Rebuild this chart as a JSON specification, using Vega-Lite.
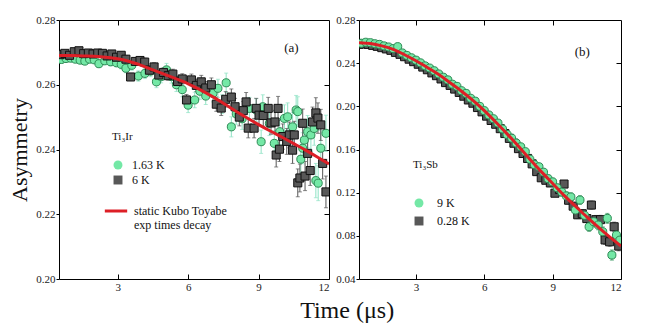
{
"$schema":"https://vega.github.io/schema/vega-lite/v6.json",
"padding":{"left":8,"top":14,"right":5,"bottom":0},
"title":{"text":"Time (μs)","orient":"bottom","anchor":"middle","fontSize":24,"font":"Liberation Serif","fontWeight":"normal","color":"#111","dx":32,"offset":7},
"datasets":{
"a1":[
{"s":"1.63 K","t":0.6,"v":0.2678,"e":0.001},{"s":"1.63 K","t":0.8,"v":0.2681,"e":0.001},{"s":"1.63 K","t":1.0,"v":0.2682,"e":0.001},{"s":"1.63 K","t":1.2,"v":0.2679,"e":0.001},{"s":"1.63 K","t":1.4,"v":0.2676,"e":0.001},{"s":"1.63 K","t":1.6,"v":0.2673,"e":0.0011},{"s":"1.63 K","t":1.8,"v":0.2679,"e":0.0011},{"s":"1.63 K","t":2.0,"v":0.2677,"e":0.0011},{"s":"1.63 K","t":2.2,"v":0.2665,"e":0.0012},{"s":"1.63 K","t":2.45,"v":0.2674,"e":0.0012},{"s":"1.63 K","t":2.7,"v":0.2671,"e":0.0013},{"s":"1.63 K","t":2.95,"v":0.2668,"e":0.0013},{"s":"1.63 K","t":3.15,"v":0.2663,"e":0.0014},{"s":"1.63 K","t":3.35,"v":0.2651,"e":0.0014},{"s":"1.63 K","t":3.6,"v":0.266,"e":0.0015},{"s":"1.63 K","t":3.88,"v":0.2627,"e":0.0016},{"s":"1.63 K","t":4.16,"v":0.2635,"e":0.0016},{"s":"1.63 K","t":4.4,"v":0.2642,"e":0.0017},{"s":"1.63 K","t":4.65,"v":0.2609,"e":0.0018},{"s":"1.63 K","t":4.85,"v":0.2625,"e":0.0019},{"s":"1.63 K","t":5.08,"v":0.2646,"e":0.002},{"s":"1.63 K","t":5.29,"v":0.2625,"e":0.002},{"s":"1.63 K","t":5.5,"v":0.26,"e":0.0021},{"s":"1.63 K","t":5.75,"v":0.2585,"e":0.0022},{"s":"1.63 K","t":6.0,"v":0.2537,"e":0.0023},{"s":"1.63 K","t":6.28,"v":0.2553,"e":0.0024},{"s":"1.63 K","t":6.5,"v":0.258,"e":0.0025},{"s":"1.63 K","t":6.75,"v":0.2565,"e":0.0026},{"s":"1.63 K","t":7.06,"v":0.2574,"e":0.0027},{"s":"1.63 K","t":7.27,"v":0.2589,"e":0.0028},{"s":"1.63 K","t":7.45,"v":0.254,"e":0.0029},{"s":"1.63 K","t":7.62,"v":0.2606,"e":0.003},{"s":"1.63 K","t":7.84,"v":0.247,"e":0.0031},{"s":"1.63 K","t":8.05,"v":0.251,"e":0.0032},{"s":"1.63 K","t":8.3,"v":0.2495,"e":0.0033},{"s":"1.63 K","t":8.61,"v":0.2527,"e":0.0034},{"s":"1.63 K","t":8.9,"v":0.2522,"e":0.0035},{"s":"1.63 K","t":9.11,"v":0.2424,"e":0.0036},{"s":"1.63 K","t":9.18,"v":0.2532,"e":0.0037},{"s":"1.63 K","t":9.46,"v":0.2481,"e":0.0038},{"s":"1.63 K","t":9.67,"v":0.2419,"e":0.0039},{"s":"1.63 K","t":9.9,"v":0.2455,"e":0.004},{"s":"1.63 K","t":10.1,"v":0.2496,"e":0.0042},{"s":"1.63 K","t":10.24,"v":0.2501,"e":0.0043},{"s":"1.63 K","t":10.45,"v":0.247,"e":0.0044},{"s":"1.63 K","t":10.6,"v":0.2522,"e":0.0045},{"s":"1.63 K","t":10.67,"v":0.2517,"e":0.0046},{"s":"1.63 K","t":10.8,"v":0.237,"e":0.0047},{"s":"1.63 K","t":10.88,"v":0.2404,"e":0.0048},{"s":"1.63 K","t":10.95,"v":0.2429,"e":0.0049},{"s":"1.63 K","t":11.09,"v":0.2455,"e":0.005},{"s":"1.63 K","t":11.23,"v":0.2445,"e":0.0051},{"s":"1.63 K","t":11.37,"v":0.2465,"e":0.0052},{"s":"1.63 K","t":11.44,"v":0.2304,"e":0.0053},{"s":"1.63 K","t":11.54,"v":0.2296,"e":0.0054},{"s":"1.63 K","t":11.65,"v":0.2404,"e":0.0055},{"s":"1.63 K","t":11.87,"v":0.245,"e":0.0056}
],
"a6":[
{"s":"6 K","t":0.55,"v":0.2693,"e":0.0008},{"s":"6 K","t":0.75,"v":0.2697,"e":0.0008},{"s":"6 K","t":0.95,"v":0.2691,"e":0.0008},{"s":"6 K","t":1.15,"v":0.2702,"e":0.0008},{"s":"6 K","t":1.35,"v":0.2705,"e":0.0008},{"s":"6 K","t":1.55,"v":0.2696,"e":0.0009},{"s":"6 K","t":1.75,"v":0.2698,"e":0.0009},{"s":"6 K","t":1.95,"v":0.2695,"e":0.0009},{"s":"6 K","t":2.15,"v":0.2698,"e":0.0009},{"s":"6 K","t":2.35,"v":0.2697,"e":0.001},{"s":"6 K","t":2.55,"v":0.2689,"e":0.001},{"s":"6 K","t":2.75,"v":0.2695,"e":0.001},{"s":"6 K","t":2.95,"v":0.2685,"e":0.001},{"s":"6 K","t":3.15,"v":0.2691,"e":0.001},{"s":"6 K","t":3.35,"v":0.2679,"e":0.0011},{"s":"6 K","t":3.55,"v":0.2624,"e":0.0011},{"s":"6 K","t":3.75,"v":0.2672,"e":0.0011},{"s":"6 K","t":3.95,"v":0.2675,"e":0.0012},{"s":"6 K","t":4.15,"v":0.267,"e":0.0012},{"s":"6 K","t":4.35,"v":0.2645,"e":0.0012},{"s":"6 K","t":4.55,"v":0.2655,"e":0.0013},{"s":"6 K","t":4.75,"v":0.263,"e":0.0013},{"s":"6 K","t":4.95,"v":0.2638,"e":0.0014},{"s":"6 K","t":5.15,"v":0.2628,"e":0.0014},{"s":"6 K","t":5.35,"v":0.2633,"e":0.0015},{"s":"6 K","t":5.55,"v":0.261,"e":0.0016},{"s":"6 K","t":5.75,"v":0.2618,"e":0.0016},{"s":"6 K","t":5.93,"v":0.2553,"e":0.0017},{"s":"6 K","t":6.14,"v":0.2615,"e":0.0018},{"s":"6 K","t":6.35,"v":0.2598,"e":0.0019},{"s":"6 K","t":6.56,"v":0.2609,"e":0.002},{"s":"6 K","t":6.75,"v":0.259,"e":0.002},{"s":"6 K","t":6.99,"v":0.26,"e":0.0021},{"s":"6 K","t":7.2,"v":0.254,"e":0.0022},{"s":"6 K","t":7.41,"v":0.2528,"e":0.0023},{"s":"6 K","t":7.6,"v":0.2555,"e":0.0024},{"s":"6 K","t":7.84,"v":0.2562,"e":0.0025},{"s":"6 K","t":8.0,"v":0.2532,"e":0.0026},{"s":"6 K","t":8.18,"v":0.25,"e":0.0027},{"s":"6 K","t":8.35,"v":0.252,"e":0.0028},{"s":"6 K","t":8.47,"v":0.2547,"e":0.0029},{"s":"6 K","t":8.56,"v":0.2466,"e":0.003},{"s":"6 K","t":8.81,"v":0.2466,"e":0.003},{"s":"6 K","t":8.9,"v":0.2527,"e":0.0031},{"s":"6 K","t":9.02,"v":0.2506,"e":0.0032},{"s":"6 K","t":9.2,"v":0.2505,"e":0.0033},{"s":"6 K","t":9.41,"v":0.2527,"e":0.0034},{"s":"6 K","t":9.53,"v":0.2482,"e":0.0035},{"s":"6 K","t":9.7,"v":0.2485,"e":0.0036},{"s":"6 K","t":9.75,"v":0.2383,"e":0.0037},{"s":"6 K","t":9.83,"v":0.2527,"e":0.0037},{"s":"6 K","t":9.89,"v":0.2401,"e":0.0038},{"s":"6 K","t":10.03,"v":0.244,"e":0.0039},{"s":"6 K","t":10.2,"v":0.2425,"e":0.004},{"s":"6 K","t":10.31,"v":0.2445,"e":0.004},{"s":"6 K","t":10.45,"v":0.2398,"e":0.0041},{"s":"6 K","t":10.52,"v":0.2445,"e":0.0042},{"s":"6 K","t":10.67,"v":0.2297,"e":0.0043},{"s":"6 K","t":10.76,"v":0.2312,"e":0.0043},{"s":"6 K","t":10.88,"v":0.2481,"e":0.0044},{"s":"6 K","t":10.98,"v":0.2318,"e":0.0045},{"s":"6 K","t":11.09,"v":0.2388,"e":0.0045},{"s":"6 K","t":11.2,"v":0.2335,"e":0.0046},{"s":"6 K","t":11.3,"v":0.2485,"e":0.0046},{"s":"6 K","t":11.44,"v":0.2513,"e":0.0047},{"s":"6 K","t":11.53,"v":0.2497,"e":0.0047},{"s":"6 K","t":11.65,"v":0.2476,"e":0.0048},{"s":"6 K","t":11.73,"v":0.2357,"e":0.0048},{"s":"6 K","t":11.87,"v":0.2269,"e":0.0049}
],
"af":[
{"t":0.5,"v":0.269},{"t":1,"v":0.269},{"t":1.5,"v":0.2689},{"t":2,"v":0.2688},{"t":2.5,"v":0.2685},{"t":3,"v":0.268},{"t":3.5,"v":0.2672},{"t":4,"v":0.266},{"t":4.5,"v":0.2646},{"t":5,"v":0.2632},{"t":5.5,"v":0.2618},{"t":6,"v":0.2603},{"t":6.5,"v":0.2585},{"t":7,"v":0.2565},{"t":7.5,"v":0.2543},{"t":8,"v":0.252},{"t":8.5,"v":0.2498},{"t":9,"v":0.2477},{"t":9.5,"v":0.2457},{"t":10,"v":0.2438},{"t":10.5,"v":0.2418},{"t":11,"v":0.2398},{"t":11.5,"v":0.2377},{"t":12,"v":0.2355}
],
"b9":[
{"s":"9 K","t":0.6,"v":0.2585,"e":0.0012},{"s":"9 K","t":0.8,"v":0.2594,"e":0.0012},{"s":"9 K","t":1.0,"v":0.259,"e":0.0012},{"s":"9 K","t":1.2,"v":0.258,"e":0.0012},{"s":"9 K","t":1.4,"v":0.2574,"e":0.0012},{"s":"9 K","t":1.6,"v":0.256,"e":0.0012},{"s":"9 K","t":1.8,"v":0.255,"e":0.0012},{"s":"9 K","t":2.0,"v":0.2535,"e":0.0013},{"s":"9 K","t":2.2,"v":0.2553,"e":0.0013},{"s":"9 K","t":2.4,"v":0.2495,"e":0.0013},{"s":"9 K","t":2.6,"v":0.2472,"e":0.0013},{"s":"9 K","t":2.8,"v":0.245,"e":0.0014},{"s":"9 K","t":3.0,"v":0.2428,"e":0.0014},{"s":"9 K","t":3.2,"v":0.2403,"e":0.0014},{"s":"9 K","t":3.4,"v":0.2375,"e":0.0015},{"s":"9 K","t":3.6,"v":0.2355,"e":0.0015},{"s":"9 K","t":3.8,"v":0.233,"e":0.0015},{"s":"9 K","t":4.0,"v":0.23,"e":0.0016},{"s":"9 K","t":4.2,"v":0.227,"e":0.0016},{"s":"9 K","t":4.4,"v":0.2245,"e":0.0017},{"s":"9 K","t":4.6,"v":0.2205,"e":0.0017},{"s":"9 K","t":4.8,"v":0.2185,"e":0.0018},{"s":"9 K","t":5.0,"v":0.2145,"e":0.0018},{"s":"9 K","t":5.2,"v":0.212,"e":0.0019},{"s":"9 K","t":5.4,"v":0.2075,"e":0.0019},{"s":"9 K","t":5.6,"v":0.2048,"e":0.002},{"s":"9 K","t":5.8,"v":0.2,"e":0.002},{"s":"9 K","t":6.0,"v":0.196,"e":0.0021},{"s":"9 K","t":6.2,"v":0.192,"e":0.0021},{"s":"9 K","t":6.4,"v":0.1885,"e":0.0022},{"s":"9 K","t":6.6,"v":0.1845,"e":0.0022},{"s":"9 K","t":6.8,"v":0.179,"e":0.0023},{"s":"9 K","t":7.0,"v":0.174,"e":0.0024},{"s":"9 K","t":7.2,"v":0.1705,"e":0.0025},{"s":"9 K","t":7.4,"v":0.166,"e":0.0026},{"s":"9 K","t":7.6,"v":0.1625,"e":0.0027},{"s":"9 K","t":7.8,"v":0.158,"e":0.0028},{"s":"9 K","t":8.0,"v":0.151,"e":0.0029},{"s":"9 K","t":8.2,"v":0.146,"e":0.003},{"s":"9 K","t":8.4,"v":0.144,"e":0.0031},{"s":"9 K","t":8.6,"v":0.139,"e":0.0032},{"s":"9 K","t":8.8,"v":0.133,"e":0.0033},{"s":"9 K","t":9.0,"v":0.13,"e":0.0034},{"s":"9 K","t":9.2,"v":0.1245,"e":0.0035},{"s":"9 K","t":9.4,"v":0.1205,"e":0.0036},{"s":"9 K","t":9.6,"v":0.117,"e":0.0037},{"s":"9 K","t":9.8,"v":0.116,"e":0.0038},{"s":"9 K","t":10.0,"v":0.1039,"e":0.0039},{"s":"9 K","t":10.2,"v":0.1132,"e":0.004},{"s":"9 K","t":10.4,"v":0.099,"e":0.0041},{"s":"9 K","t":10.6,"v":0.0884,"e":0.0042},{"s":"9 K","t":10.8,"v":0.0931,"e":0.0043},{"s":"9 K","t":11.0,"v":0.09,"e":0.0044},{"s":"9 K","t":11.2,"v":0.0838,"e":0.0045},{"s":"9 K","t":11.4,"v":0.0962,"e":0.0046},{"s":"9 K","t":11.6,"v":0.0622,"e":0.0047},{"s":"9 K","t":11.8,"v":0.0807,"e":0.0048},{"s":"9 K","t":11.95,"v":0.076,"e":0.0049}
],
"b0":[
{"s":"0.28 K","t":0.5,"v":0.2575,"e":0.0011},{"s":"0.28 K","t":0.7,"v":0.2578,"e":0.0011},{"s":"0.28 K","t":0.9,"v":0.2574,"e":0.0011},{"s":"0.28 K","t":1.1,"v":0.2565,"e":0.0011},{"s":"0.28 K","t":1.3,"v":0.2556,"e":0.0011},{"s":"0.28 K","t":1.5,"v":0.2544,"e":0.0011},{"s":"0.28 K","t":1.7,"v":0.2532,"e":0.0011},{"s":"0.28 K","t":1.9,"v":0.2519,"e":0.0012},{"s":"0.28 K","t":2.1,"v":0.25,"e":0.0012},{"s":"0.28 K","t":2.3,"v":0.2482,"e":0.0012},{"s":"0.28 K","t":2.5,"v":0.246,"e":0.0012},{"s":"0.28 K","t":2.7,"v":0.2437,"e":0.0012},{"s":"0.28 K","t":2.9,"v":0.2414,"e":0.0013},{"s":"0.28 K","t":3.1,"v":0.239,"e":0.0013},{"s":"0.28 K","t":3.3,"v":0.2364,"e":0.0013},{"s":"0.28 K","t":3.5,"v":0.2339,"e":0.0013},{"s":"0.28 K","t":3.7,"v":0.231,"e":0.0014},{"s":"0.28 K","t":3.9,"v":0.2284,"e":0.0014},{"s":"0.28 K","t":4.1,"v":0.2254,"e":0.0014},{"s":"0.28 K","t":4.3,"v":0.222,"e":0.0015},{"s":"0.28 K","t":4.5,"v":0.2194,"e":0.0015},{"s":"0.28 K","t":4.7,"v":0.216,"e":0.0015},{"s":"0.28 K","t":4.9,"v":0.2129,"e":0.0016},{"s":"0.28 K","t":5.1,"v":0.2094,"e":0.0016},{"s":"0.28 K","t":5.3,"v":0.2059,"e":0.0016},{"s":"0.28 K","t":5.5,"v":0.2029,"e":0.0017},{"s":"0.28 K","t":5.7,"v":0.1989,"e":0.0017},{"s":"0.28 K","t":5.9,"v":0.1949,"e":0.0018},{"s":"0.28 K","t":6.1,"v":0.1909,"e":0.0018},{"s":"0.28 K","t":6.3,"v":0.1869,"e":0.0019},{"s":"0.28 K","t":6.5,"v":0.1834,"e":0.0019},{"s":"0.28 K","t":6.7,"v":0.1793,"e":0.002},{"s":"0.28 K","t":6.9,"v":0.1748,"e":0.002},{"s":"0.28 K","t":7.1,"v":0.1703,"e":0.0021},{"s":"0.28 K","t":7.3,"v":0.1658,"e":0.0022},{"s":"0.28 K","t":7.5,"v":0.1608,"e":0.0022},{"s":"0.28 K","t":7.7,"v":0.1563,"e":0.0023},{"s":"0.28 K","t":7.9,"v":0.1517,"e":0.0024},{"s":"0.28 K","t":8.1,"v":0.1467,"e":0.0025},{"s":"0.28 K","t":8.3,"v":0.1395,"e":0.0026},{"s":"0.28 K","t":8.5,"v":0.1338,"e":0.0027},{"s":"0.28 K","t":8.7,"v":0.1315,"e":0.0028},{"s":"0.28 K","t":8.9,"v":0.129,"e":0.0029},{"s":"0.28 K","t":9.1,"v":0.1195,"e":0.003},{"s":"0.28 K","t":9.3,"v":0.123,"e":0.0031},{"s":"0.28 K","t":9.5,"v":0.128,"e":0.0032},{"s":"0.28 K","t":9.7,"v":0.113,"e":0.0033},{"s":"0.28 K","t":9.9,"v":0.1075,"e":0.0034},{"s":"0.28 K","t":10.1,"v":0.0995,"e":0.0035},{"s":"0.28 K","t":10.3,"v":0.1005,"e":0.0036},{"s":"0.28 K","t":10.5,"v":0.096,"e":0.0037},{"s":"0.28 K","t":10.7,"v":0.1085,"e":0.0038},{"s":"0.28 K","t":10.9,"v":0.095,"e":0.0039},{"s":"0.28 K","t":11.1,"v":0.095,"e":0.004},{"s":"0.28 K","t":11.3,"v":0.0762,"e":0.0041},{"s":"0.28 K","t":11.5,"v":0.0745,"e":0.0042},{"s":"0.28 K","t":11.7,"v":0.0884,"e":0.0043},{"s":"0.28 K","t":11.9,"v":0.0705,"e":0.0044}
],
"bf":[
{"t":0.5,"v":0.259},{"t":1,"v":0.2582},{"t":1.5,"v":0.256},{"t":2,"v":0.2528},{"t":2.5,"v":0.2478},{"t":3,"v":0.2422},{"t":3.5,"v":0.236},{"t":4,"v":0.2295},{"t":4.5,"v":0.2218},{"t":5,"v":0.214},{"t":5.5,"v":0.2055},{"t":6,"v":0.196},{"t":6.5,"v":0.1855},{"t":7,"v":0.1745},{"t":7.5,"v":0.163},{"t":8,"v":0.151},{"t":8.5,"v":0.1395},{"t":9,"v":0.1285},{"t":9.5,"v":0.1175},{"t":10,"v":0.1075},{"t":10.5,"v":0.0975},{"t":11,"v":0.088},{"t":11.5,"v":0.079},{"t":12,"v":0.0705}
]
},
"spacing":5,
"resolve":{"scale":{"fill":"independent","shape":"independent","stroke":"independent"},"legend":{"fill":"independent","shape":"independent","stroke":"independent"}},
"hconcat":[
{
"width":270,"height":259,
"layer":[
{"data":{"name":"a1"},"mark":{"type":"errorbar","color":"#8fe3c4","thickness":1,"ticks":{"size":4},"clip":true},
 "encoding":{"x":{"field":"t","type":"quantitative","scale":{"domain":[0.5,12],"nice":false,"zero":false},"axis":null},"y":{"field":"v","type":"quantitative","scale":{"domain":[0.2,0.28],"nice":false,"zero":false},"axis":null},"yError":{"field":"e"}}},
{"data":{"name":"a6"},"mark":{"type":"errorbar","color":"#555555","thickness":1,"ticks":{"size":4},"clip":true},
 "encoding":{"x":{"field":"t","type":"quantitative","scale":{"domain":[0.5,12],"nice":false,"zero":false},"axis":null},"y":{"field":"v","type":"quantitative","scale":{"domain":[0.2,0.28],"nice":false,"zero":false},"axis":null},"yError":{"field":"e"}}},
{"data":{"name":"a1"},"mark":{"type":"point","filled":true,"stroke":"#2e8a55","strokeWidth":1,"size":65,"opacity":1,"clip":true},
 "encoding":{"x":{"field":"t","type":"quantitative","scale":{"domain":[0.5,12],"nice":false,"zero":false},"axis":null},"y":{"field":"v","type":"quantitative","scale":{"domain":[0.2,0.28],"nice":false,"zero":false},"axis":null},
 "fill":{"field":"s","type":"nominal","scale":{"domain":["1.63 K","6 K"],"range":["#74e8a6","#585858"]},"legend":{"orient":"none","legendX":53,"legendY":111,"title":"Ti₃Ir","titlePadding":17,"rowPadding":1,"labelOffset":8,"symbolSize":80,"symbolStrokeColor":"#222","symbolStrokeWidth":1}},
 "shape":{"field":"s","type":"nominal","scale":{"domain":["1.63 K","6 K"],"range":["circle","square"]},"legend":{"orient":"none","legendX":53,"legendY":111,"title":"Ti₃Ir","titlePadding":17,"rowPadding":1,"labelOffset":8,"symbolSize":80,"symbolStrokeColor":"#222","symbolStrokeWidth":1}}}},
{"data":{"name":"a6"},"mark":{"type":"point","filled":true,"stroke":"#111111","strokeWidth":1,"size":65,"opacity":1,"clip":true},
 "encoding":{"x":{"field":"t","type":"quantitative","scale":{"domain":[0.5,12],"nice":false,"zero":false},"axis":{"orient":"top","values":[3,6,9],"labels":false,"tickSize":-5,"title":null}},"y":{"field":"v","type":"quantitative","scale":{"domain":[0.2,0.28],"nice":false,"zero":false},"axis":{"orient":"right","values":[0.22,0.24,0.26],"labels":false,"tickSize":-5,"title":null}},
 "fill":{"field":"s","type":"nominal","scale":{"domain":["1.63 K","6 K"],"range":["#74e8a6","#585858"]},"legend":{"orient":"none","legendX":53,"legendY":111,"title":"Ti₃Ir","titlePadding":17,"rowPadding":1,"labelOffset":8,"symbolSize":80,"symbolStrokeColor":"#222","symbolStrokeWidth":1}},
 "shape":{"field":"s","type":"nominal","scale":{"domain":["1.63 K","6 K"],"range":["circle","square"]},"legend":{"orient":"none","legendX":53,"legendY":111,"title":"Ti₃Ir","titlePadding":17,"rowPadding":1,"labelOffset":8,"symbolSize":80,"symbolStrokeColor":"#222","symbolStrokeWidth":1}}}},
{"data":{"name":"af"},"mark":{"type":"line","strokeWidth":3,"interpolate":"monotone","clip":true},
 "encoding":{"x":{"field":"t","type":"quantitative","scale":{"domain":[0.5,12],"nice":false,"zero":false},"axis":{"orient":"bottom","values":[3,6,9,12],"format":"d","title":null,"tickSize":-5,"labelPadding":7}},"y":{"field":"v","type":"quantitative","scale":{"domain":[0.2,0.28],"nice":false,"zero":false},"axis":{"orient":"left","values":[0.2,0.22,0.24,0.26,0.28],"format":".2f","title":"Asymmetry","titleFontSize":22,"titlePadding":4,"tickSize":3,"labelPadding":1}},
 "stroke":{"datum":"static Kubo Toyabe","type":"nominal","scale":{"range":["#dd1f26"]},"legend":{"orient":"none","legendX":44,"legendY":178,"title":null,"symbolType":"stroke","symbolSize":500,"symbolStrokeWidth":3,"labelOffset":5,"labelExpr":"['static Kubo Toyabe','exp times decay']"}}}},
{"data":{"values":[{}]},"mark":{"type":"text","fontSize":13,"font":"Liberation Serif","color":"#111"},
 "encoding":{"x":{"datum":10.4,"type":"quantitative","scale":{"domain":[0.5,12],"nice":false,"zero":false},"axis":null},"y":{"datum":0.2714,"type":"quantitative","scale":{"domain":[0.2,0.28],"nice":false,"zero":false},"axis":null},"text":{"value":"(a)"}}}
],
"resolve":{"axis":{"x":"independent","y":"independent"}}
},
{
"width":262,"height":259,
"layer":[
{"data":{"name":"b9"},"mark":{"type":"errorbar","color":"#3c9a62","thickness":1,"ticks":{"size":4},"clip":true},
 "encoding":{"x":{"field":"t","type":"quantitative","scale":{"domain":[0.5,12],"nice":false,"zero":false},"axis":null},"y":{"field":"v","type":"quantitative","scale":{"domain":[0.04,0.28],"nice":false,"zero":false},"axis":null},"yError":{"field":"e"}}},
{"data":{"name":"b0"},"mark":{"type":"errorbar","color":"#555555","thickness":1,"ticks":{"size":4},"clip":true},
 "encoding":{"x":{"field":"t","type":"quantitative","scale":{"domain":[0.5,12],"nice":false,"zero":false},"axis":null},"y":{"field":"v","type":"quantitative","scale":{"domain":[0.04,0.28],"nice":false,"zero":false},"axis":null},"yError":{"field":"e"}}},
{"data":{"name":"b0"},"mark":{"type":"point","filled":true,"stroke":"#111111","strokeWidth":1,"size":65,"opacity":1,"clip":true},
 "encoding":{"x":{"field":"t","type":"quantitative","scale":{"domain":[0.5,12],"nice":false,"zero":false},"axis":null},"y":{"field":"v","type":"quantitative","scale":{"domain":[0.04,0.28],"nice":false,"zero":false},"axis":null},
 "fill":{"field":"s","type":"nominal","scale":{"domain":["9 K","0.28 K"],"range":["#74e8a6","#585858"]},"legend":{"orient":"none","legendX":54,"legendY":139,"title":"Ti₃Sb","titlePadding":27,"rowPadding":4,"labelOffset":12,"symbolSize":80,"symbolStrokeColor":"#222","symbolStrokeWidth":1}},
 "shape":{"field":"s","type":"nominal","scale":{"domain":["9 K","0.28 K"],"range":["circle","square"]},"legend":{"orient":"none","legendX":54,"legendY":139,"title":"Ti₃Sb","titlePadding":27,"rowPadding":4,"labelOffset":12,"symbolSize":80,"symbolStrokeColor":"#222","symbolStrokeWidth":1}}}},
{"data":{"name":"b9"},"mark":{"type":"point","filled":true,"stroke":"#2e8a55","strokeWidth":1,"size":65,"opacity":1,"clip":true},
 "encoding":{"x":{"field":"t","type":"quantitative","scale":{"domain":[0.5,12],"nice":false,"zero":false},"axis":{"orient":"top","values":[3,6,9],"labels":false,"tickSize":-5,"title":null}},"y":{"field":"v","type":"quantitative","scale":{"domain":[0.04,0.28],"nice":false,"zero":false},"axis":{"orient":"right","values":[0.08,0.12,0.16,0.2,0.24],"labels":false,"tickSize":-5,"title":null}},
 "fill":{"field":"s","type":"nominal","scale":{"domain":["9 K","0.28 K"],"range":["#74e8a6","#585858"]},"legend":{"orient":"none","legendX":54,"legendY":139,"title":"Ti₃Sb","titlePadding":27,"rowPadding":4,"labelOffset":12,"symbolSize":80,"symbolStrokeColor":"#222","symbolStrokeWidth":1}},
 "shape":{"field":"s","type":"nominal","scale":{"domain":["9 K","0.28 K"],"range":["circle","square"]},"legend":{"orient":"none","legendX":54,"legendY":139,"title":"Ti₃Sb","titlePadding":27,"rowPadding":4,"labelOffset":12,"symbolSize":80,"symbolStrokeColor":"#222","symbolStrokeWidth":1}}}},
{"data":{"name":"bf"},"mark":{"type":"line","strokeWidth":3,"interpolate":"monotone","color":"#dd1f26","clip":true},
 "encoding":{"x":{"field":"t","type":"quantitative","scale":{"domain":[0.5,12],"nice":false,"zero":false},"axis":{"orient":"bottom","values":[3,6,9,12],"format":"d","title":null,"tickSize":-5,"labelPadding":7}},"y":{"field":"v","type":"quantitative","scale":{"domain":[0.04,0.28],"nice":false,"zero":false},"axis":{"orient":"left","values":[0.04,0.08,0.12,0.16,0.2,0.24,0.28],"format":".2f","title":null,"tickSize":3,"labelPadding":1}}}},
{"data":{"values":[{}]},"mark":{"type":"text","fontSize":13,"font":"Liberation Serif","color":"#111"},
 "encoding":{"x":{"datum":10.3,"type":"quantitative","scale":{"domain":[0.5,12],"nice":false,"zero":false},"axis":null},"y":{"datum":0.2503,"type":"quantitative","scale":{"domain":[0.04,0.28],"nice":false,"zero":false},"axis":null},"text":{"value":"(b)"}}}
],
"resolve":{"axis":{"x":"independent","y":"independent"}}
}
],
"config":{
"font":"Liberation Serif",
"view":{"stroke":null},
"axis":{"domainColor":"#000","domainWidth":1,"tickColor":"#000","tickWidth":1,"labelFont":"Liberation Serif","labelFontSize":11,"labelColor":"#222","grid":false,"titleFont":"Liberation Serif","titleFontWeight":"normal","titleColor":"#111"},
"legend":{"labelFont":"Liberation Serif","labelFontSize":12,"labelColor":"#111","titleFont":"Liberation Serif","titleFontSize":11,"titleFontWeight":"normal","titleColor":"#111","padding":0}
}
}
